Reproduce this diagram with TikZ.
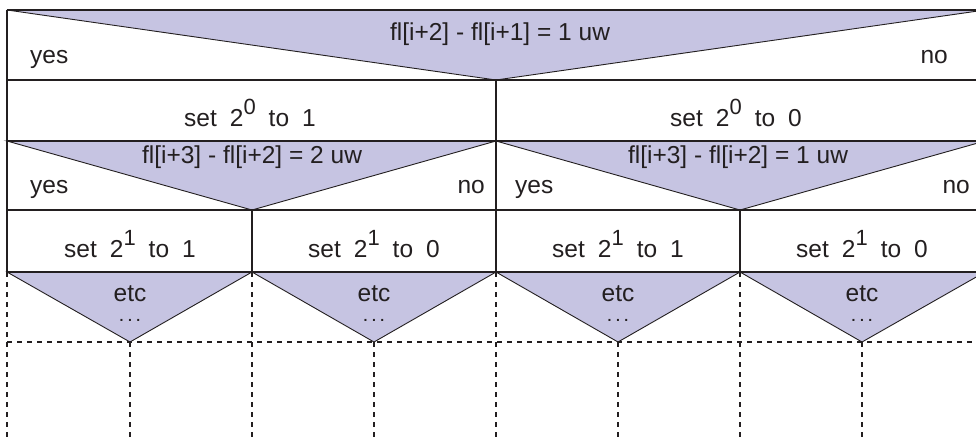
\documentclass[tikz,border=0pt]{standalone}
\usepackage{fontspec}
\setmainfont{Liberation Sans}
\definecolor{lav}{RGB}{198,196,226}
\definecolor{ink}{RGB}{35,31,32}
\newcommand{\sq}[1]{\raisebox{12pt}{\fontsize{22}{22}\selectfont #1}}
\newcommand{\gp}{\hspace{13pt}}
\begin{document}
\begin{tikzpicture}[x=1pt,y=-1pt,
  txt/.style={inner sep=0pt,text=ink,font=\fontsize{24.5}{26}\selectfont},
  tri/.style={fill=lav,draw=ink,line width=0.9pt,line join=miter},
  rule/.style={draw=ink,line width=2.4pt},
  vrule/.style={draw=ink,line width=2pt},
  dline/.style={draw=ink,line width=1.8pt,dash pattern=on 5pt off 5pt}]
\useasboundingbox (0,0) rectangle (976,437);
% corner coordinates
\coordinate (L0) at (7,10);   \coordinate (R0) at (985,10);
\coordinate (A0) at (496,80);
\coordinate (L1) at (7,80);   \coordinate (R1) at (985,80);
\coordinate (L2) at (7,141);  \coordinate (M2) at (496,141); \coordinate (R2) at (985,141);
\coordinate (A1) at (252,210); \coordinate (A2) at (740,210);
\coordinate (L3) at (7,210);  \coordinate (R3) at (985,210);
\coordinate (L4) at (7,272);  \coordinate (Q1) at (252,272); \coordinate (M4) at (496,272);
\coordinate (Q3) at (740,272); \coordinate (R4) at (985,272);
\coordinate (B1) at (130,342); \coordinate (B2) at (374,342);
\coordinate (B3) at (618,342); \coordinate (B4) at (862,342);
\coordinate (L5) at (7,342);  \coordinate (R5) at (985,342);
% triangles
\path[tri] (L0) -- (A0) -- (R0) -- cycle;
\path[tri] (L2) -- (A1) -- (M2) -- cycle;
\path[tri] (M2) -- (A2) -- (R2) -- cycle;
\path[tri] (L4) -- (B1) -- (Q1) -- cycle;
\path[tri] (Q1) -- (B2) -- (M4) -- cycle;
\path[tri] (M4) -- (B3) -- (Q3) -- cycle;
\path[tri] (Q3) -- (B4) -- (R4) -- cycle;
% dashed grid
\draw[dline] (L5) -- (R5);
\draw[dline] (L4) -- (7,437);
\draw[dline] (Q1) -- (252,437);
\draw[dline] (M4) -- (496,437);
\draw[dline] (Q3) -- (740,437);
\draw[dline] (B1) -- (130,437);
\draw[dline] (B2) -- (374,437);
\draw[dline] (B3) -- (618,437);
\draw[dline] (B4) -- (862,437);
% solid frame
\draw[rule] (L0) -- (R0);
\draw[rule] (L1) -- (R1);
\draw[rule] (L2) -- (R2);
\draw[rule] (L3) -- (R3);
\draw[rule] (L4) -- (R4);
\draw[vrule] (L0) -- (L4);
\draw[vrule] (A0) -- (M2);
\draw[vrule] (M2) -- (M4);
\draw[vrule] (A1) -- (Q1);
\draw[vrule] (A2) -- (Q3);
% texts
\node[txt,anchor=base] (c0) at (500,40) {fl[i+2] - fl[i+1] = 1 uw};
\node[txt,anchor=base west] (y0) at (30,63) {yes};
\node[txt,anchor=base east] (n0) at (948,63) {no};
\node[txt,anchor=base] (s01) at (250,126) {set\gp 2\sq{0}\gp to\gp 1};
\node[txt,anchor=base] (s00) at (736,126) {set\gp 2\sq{0}\gp to\gp 0};
\node[txt,anchor=base] (c1) at (252,163) {fl[i+3] - fl[i+2] = 2 uw};
\node[txt,anchor=base] (c2) at (738,163) {fl[i+3] - fl[i+2] = 1 uw};
\node[txt,anchor=base west] (y1) at (30,193) {yes};
\node[txt,anchor=base east] (n1) at (485,193) {no};
\node[txt,anchor=base west] (y2) at (515,193) {yes};
\node[txt,anchor=base east] (n2) at (970,193) {no};
\node[txt,anchor=base] (s11) at (130,257) {set\gp 2\sq{1}\gp to\gp 1};
\node[txt,anchor=base] (s10) at (374,257) {set\gp 2\sq{1}\gp to\gp 0};
\node[txt,anchor=base] (s21) at (618,257) {set\gp 2\sq{1}\gp to\gp 1};
\node[txt,anchor=base] (s20) at (862,257) {set\gp 2\sq{1}\gp to\gp 0};
\foreach \x/\n in {130/e1,374/e2,618/e3,862/e4}{
  \node[txt,anchor=base] (\n) at (\x,301) {etc};
  \node[txt,anchor=base,font=\fontsize{14}{14}\selectfont\bfseries] (\n d) at (\x,321) {.\hspace{4.5pt}.\hspace{4.5pt}.};
}
\end{tikzpicture}
\end{document}
